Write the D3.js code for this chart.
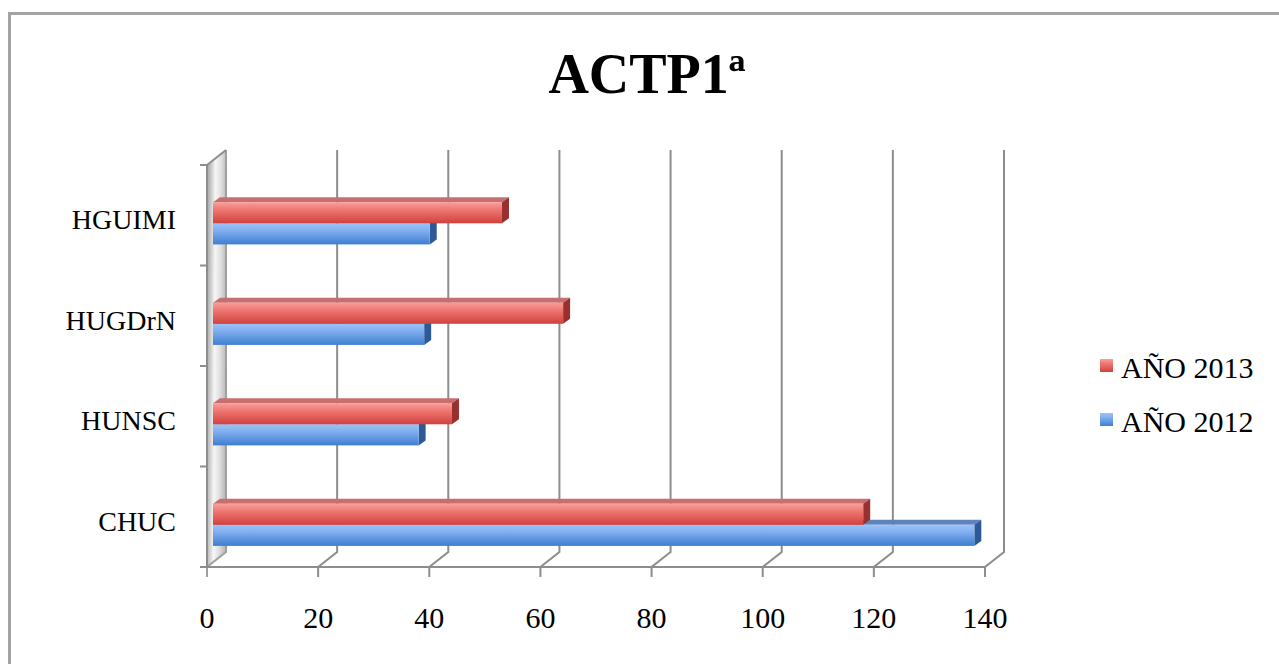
<!DOCTYPE html>
<html>
<head>
<meta charset="utf-8">
<script src="https://cdn.jsdelivr.net/npm/d3@7"></script>
<style>
  html, body { margin: 0; padding: 0; background: #fff; }
  svg { display: block; }
</style>
</head>
<body>
<svg id="chart" width="1279" height="664"></svg>
<script>
// ---- data ----
const title = "ACTP1ª";
const categories = ["CHUC", "HUNSC", "HUGDrN", "HGUIMI"];
const seriesNames = ["AÑO 2013", "AÑO 2012"];
const values2013 = [117, 43, 63, 52];
const values2012 = [137, 37, 38, 39];
const xTicks = [0, 20, 40, 60, 80, 100, 120, 140];

// ---- layout ----
const svg = d3.select("#chart");
const W = 1279, H = 664;
const FONT = "'Liberation Serif', 'Times New Roman', serif";
const DX = 19, DY = -15;         // chart depth offset
const BX = 6;                     // bar depth shift (x)
const BD = 7, BDY = -5;           // bar own depth

const x = d3.scaleLinear().domain([0, 140]).range([207, 985]);
const y = d3.scaleBand().domain(categories).range([567, 165]);
const bw = y.bandwidth();

svg.append("rect").attr("width", W).attr("height", H).attr("fill", "#fff");
// outer frame
svg.append("rect").attr("x", 9.5).attr("y", 13.5).attr("width", 1290).attr("height", 700)
  .attr("fill", "none").attr("stroke", "#a3a3a3").attr("stroke-width", 3);

const defs = svg.append("defs");
function lin(id, stops, x2 = 0, y2 = 1) {
  const g = defs.append("linearGradient").attr("id", id)
    .attr("x1", 0).attr("y1", 0).attr("x2", x2).attr("y2", y2);
  stops.forEach(s => g.append("stop").attr("offset", s[0]).attr("stop-color", s[1]));
}
lin("redFront", [[0, "#f7a09c"], [0.35, "#ef7773"], [1, "#d1413d"]]);
lin("blueFront", [[0, "#9cc3f8"], [0.35, "#80aef0"], [1, "#3e7ed0"]]);
lin("wall", [[0, "#a0a0a0"], [0.45, "#f6f6f6"], [0.75, "#dedede"], [1, "#bdbdbd"]], 1, 0.12);

// title
svg.append("text").attr("x", 647).attr("y", 93).attr("text-anchor", "middle")
  .attr("font-family", FONT).attr("font-weight", "bold").attr("font-size", 56)
  .attr("fill", "#000").text(title);

const gridColor = "#8d8d8d";
const x0 = x(0), yTop = y.range()[1], yBot = y.range()[0];

// left wall
svg.append("polygon")
  .attr("points", [[x0, yTop], [x0 + DX, yTop + DY], [x0 + DX, yBot + DY], [x0, yBot]].map(p => p.join(",")).join(" "))
  .attr("fill", "url(#wall)");

// gridlines (back wall) + diagonals + front ticks
const grid = svg.append("g").attr("stroke", gridColor).attr("stroke-width", 2).attr("fill", "none");
xTicks.forEach(t => {
  const xf = x(t);
  grid.append("path").attr("d", `M${xf + DX},${yTop + DY}V${yBot + DY}L${xf},${yBot}V${yBot + 10}`)
    .attr("stroke", t === 0 ? "#a0a0a0" : gridColor);
});
// front x axis line
grid.append("line").attr("x1", x0).attr("x2", x(140)).attr("y1", yBot).attr("y2", yBot);
// left front axis and ticks
grid.append("line").attr("x1", x0).attr("x2", x0).attr("y1", yTop).attr("y2", yBot);
grid.append("line").attr("x1", x0).attr("x2", x0 + DX).attr("y1", yTop).attr("y2", yTop + DY);
const yBounds = categories.map(c => y(c)).concat([yBot]);
yBounds.forEach(v => {
  grid.append("line").attr("x1", x0 - 7).attr("x2", x0).attr("y1", v).attr("y2", v);
});

// bars
function bar3d(g, v, top, h, c) {
  const xs = x0 + BX;
  const xe = xs + (x(v) - x0);
  g.append("polygon")
    .attr("points", [[xs, top], [xe, top], [xe + BD, top + BDY], [xs + BD, top + BDY]].map(p => p.join(",")).join(" "))
    .attr("fill", c.top);
  g.append("polygon")
    .attr("points", [[xe, top], [xe + BD, top + BDY], [xe + BD, top + h + BDY], [xe, top + h]].map(p => p.join(",")).join(" "))
    .attr("fill", c.side);
  g.append("rect").attr("x", xs).attr("y", top).attr("width", xe - xs).attr("height", h)
    .attr("fill", c.front);
}
const redC = { front: "url(#redFront)", top: "#c76f6e", side: "#97302e" };
const blueC = { front: "url(#blueFront)", top: "#5d83bd", side: "#2d5a96" };
const bars = svg.append("g");
categories.forEach((c, i) => {
  const y0 = y(c);
  const h = bw * 0.21;
  const redTop = y0 + bw * 0.37;
  const blueTop = redTop + h;
  const g = bars.append("g");
  bar3d(g, values2012[i], blueTop, h, blueC);
  bar3d(g, values2013[i], redTop, h, redC);
});

// category labels
svg.append("g").selectAll("text").data(categories).join("text")
  .attr("x", 176).attr("y", d => y(d) + bw / 2 + 14)
  .attr("text-anchor", "end").attr("font-family", FONT).attr("font-size", 28).attr("fill", "#000")
  .text(d => d);

// x tick labels
svg.append("g").selectAll("text").data(xTicks).join("text")
  .attr("x", d => x(d)).attr("y", 628)
  .attr("text-anchor", "middle").attr("font-family", FONT).attr("font-size", 30).attr("fill", "#000")
  .text(d => d);

// legend
const leg = svg.append("g");
seriesNames.forEach((s, i) => {
  const by = 378 + i * 54;
  leg.append("rect").attr("x", 1100).attr("y", by - 19).attr("width", 13).attr("height", 13)
    .attr("fill", i === 0 ? "url(#redFront)" : "url(#blueFront)");
  leg.append("text").attr("x", 1121).attr("y", by)
    .attr("font-family", FONT).attr("font-size", 30).attr("fill", "#000").text(s);
});
</script>
</body>
</html>
